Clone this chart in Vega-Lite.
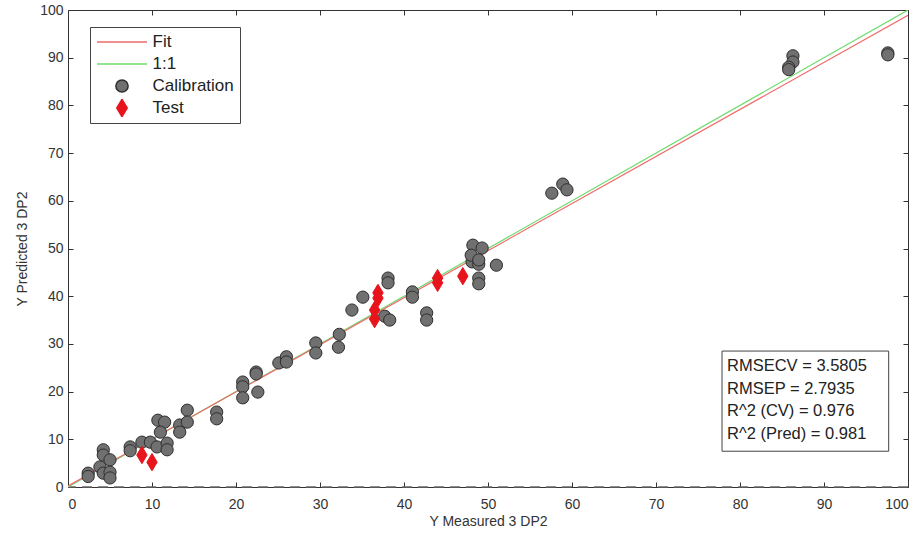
{
  "$schema": "https://vega.github.io/schema/vega-lite/v6.json",
  "autosize": "none",
  "width": 840,
  "height": 477,
  "padding": {"left": 68, "top": 10, "right": 12, "bottom": 50},
  "background": "white",
  "config": {
    "font": "Liberation Sans",
    "view": {"stroke": "#333", "strokeWidth": 1},
    "axis": {"grid": false, "domainColor": "#333", "tickColor": "#333", "labelColor": "#333", "titleColor": "#333", "labelFont": "Liberation Sans", "titleFont": "Liberation Sans", "labelFontSize": 14, "titleFontSize": 14, "titleFontWeight": "normal"},
    "legend": {"title": null, "orient": "none", "legendX": 22, "legendY": 17, "strokeColor": "#444", "fillColor": "white", "padding": 6, "labelFontSize": 17, "labelFont": "Liberation Sans", "labelColor": "#222", "symbolStrokeWidth": 1.5, "labelOffset": 4.5, "rowPadding": 4, "clipHeight": 18}
  },
  "datasets": {
    "pts": [
      {"series": "Calibration", "x": 2.4, "y": 2.9}, {"series": "Calibration", "x": 2.4, "y": 2.2},
      {"series": "Calibration", "x": 3.8, "y": 4.2}, {"series": "Calibration", "x": 4.2, "y": 7.8},
      {"series": "Calibration", "x": 4.2, "y": 6.7}, {"series": "Calibration", "x": 4.2, "y": 2.9},
      {"series": "Calibration", "x": 5.0, "y": 5.7}, {"series": "Calibration", "x": 5.0, "y": 3.1},
      {"series": "Calibration", "x": 5.0, "y": 1.9}, {"series": "Calibration", "x": 7.4, "y": 8.4},
      {"series": "Calibration", "x": 7.4, "y": 7.6}, {"series": "Calibration", "x": 8.8, "y": 9.4},
      {"series": "Calibration", "x": 9.8, "y": 9.4}, {"series": "Calibration", "x": 10.6, "y": 8.4},
      {"series": "Calibration", "x": 11.8, "y": 9.2}, {"series": "Calibration", "x": 11.8, "y": 7.8},
      {"series": "Calibration", "x": 10.7, "y": 14.0}, {"series": "Calibration", "x": 11.5, "y": 13.6},
      {"series": "Calibration", "x": 11.0, "y": 11.5}, {"series": "Calibration", "x": 13.3, "y": 13.0},
      {"series": "Calibration", "x": 13.3, "y": 11.5}, {"series": "Calibration", "x": 14.2, "y": 16.1},
      {"series": "Calibration", "x": 14.2, "y": 13.6}, {"series": "Calibration", "x": 17.7, "y": 15.7},
      {"series": "Calibration", "x": 17.7, "y": 14.3}, {"series": "Calibration", "x": 20.8, "y": 22.0},
      {"series": "Calibration", "x": 20.8, "y": 21.0}, {"series": "Calibration", "x": 20.8, "y": 18.7},
      {"series": "Calibration", "x": 22.4, "y": 24.1}, {"series": "Calibration", "x": 22.4, "y": 23.7},
      {"series": "Calibration", "x": 22.6, "y": 19.9}, {"series": "Calibration", "x": 25.1, "y": 26.0},
      {"series": "Calibration", "x": 26.0, "y": 27.3}, {"series": "Calibration", "x": 26.0, "y": 26.2},
      {"series": "Calibration", "x": 29.5, "y": 30.2}, {"series": "Calibration", "x": 29.5, "y": 28.1},
      {"series": "Calibration", "x": 32.3, "y": 32.0}, {"series": "Calibration", "x": 32.2, "y": 29.3},
      {"series": "Calibration", "x": 33.8, "y": 37.1}, {"series": "Calibration", "x": 35.1, "y": 39.8},
      {"series": "Calibration", "x": 37.7, "y": 35.8}, {"series": "Calibration", "x": 38.3, "y": 35.0},
      {"series": "Calibration", "x": 38.1, "y": 43.8}, {"series": "Calibration", "x": 38.1, "y": 42.8},
      {"series": "Calibration", "x": 41.0, "y": 40.9}, {"series": "Calibration", "x": 41.0, "y": 39.8},
      {"series": "Calibration", "x": 42.7, "y": 36.5}, {"series": "Calibration", "x": 42.7, "y": 35.0},
      {"series": "Calibration", "x": 48.1, "y": 47.2}, {"series": "Calibration", "x": 48.9, "y": 46.7},
      {"series": "Calibration", "x": 51.0, "y": 46.5}, {"series": "Calibration", "x": 48.9, "y": 43.8},
      {"series": "Calibration", "x": 48.9, "y": 42.6}, {"series": "Calibration", "x": 48.2, "y": 50.7},
      {"series": "Calibration", "x": 49.3, "y": 50.1}, {"series": "Calibration", "x": 48.0, "y": 48.6},
      {"series": "Calibration", "x": 48.9, "y": 47.6}, {"series": "Calibration", "x": 57.6, "y": 61.6},
      {"series": "Calibration", "x": 58.9, "y": 63.5}, {"series": "Calibration", "x": 59.4, "y": 62.3},
      {"series": "Calibration", "x": 86.3, "y": 90.4}, {"series": "Calibration", "x": 86.3, "y": 89.1},
      {"series": "Calibration", "x": 85.8, "y": 88.0}, {"series": "Calibration", "x": 85.8, "y": 87.5},
      {"series": "Calibration", "x": 97.6, "y": 91.0}, {"series": "Calibration", "x": 97.6, "y": 90.6},
      {"series": "Test", "x": 8.8, "y": 6.7}, {"series": "Test", "x": 10.0, "y": 5.2},
      {"series": "Test", "x": 36.9, "y": 40.7}, {"series": "Test", "x": 36.9, "y": 39.6},
      {"series": "Test", "x": 36.5, "y": 37.1}, {"series": "Test", "x": 36.5, "y": 35.2},
      {"series": "Test", "x": 44.0, "y": 43.8}, {"series": "Test", "x": 44.0, "y": 42.8},
      {"series": "Test", "x": 47.0, "y": 44.2}
    ],
    "lines": [
      {"series": "1:1", "x": 0, "y": 0}, {"series": "1:1", "x": 100, "y": 100},
      {"series": "Fit", "x": 0, "y": 0.2}, {"series": "Fit", "x": 100, "y": 98.9}
    ],
    "one": [{"k": 1}]
  },
  "resolve": {"axis": {"x": "independent", "y": "independent"}},
  "layer": [
    {
      "data": {"name": "pts"},
      "mark": {"type": "point", "opacity": 0},
      "encoding": {
        "x": {"field": "x", "type": "quantitative", "scale": {"domain": [0, 100], "nice": false},
              "axis": {"orient": "top", "values": [0,10,20,30,40,50,60,70,80,90,100], "labels": false, "title": null, "tickSize": -5, "domain": false}},
        "y": {"field": "y", "type": "quantitative", "scale": {"domain": [0, 100], "nice": false},
              "axis": {"orient": "right", "values": [0,10,20,30,40,50,60,70,80,90,100], "labels": false, "title": null, "tickSize": -5, "domain": false}}
      }
    },
    {
      "data": {"name": "one"},
      "mark": {"type": "rule", "color": "#666", "strokeDash": [10, 6], "strokeWidth": 1.5},
      "encoding": {"y": {"datum": 0, "type": "quantitative", "axis": null}}
    },
    {
      "data": {"name": "lines"},
      "mark": {"type": "line", "strokeWidth": 1.2, "clip": true},
      "encoding": {
        "x": {"field": "x", "type": "quantitative",
              "axis": {"orient": "bottom", "values": [0,10,20,30,40,50,60,70,80,90,100], "title": "Y Measured 3 DP2", "tickSize": -5, "labelPadding": 15, "titlePadding": 3, "domain": false}},
        "y": {"field": "y", "type": "quantitative",
              "axis": {"orient": "left", "values": [0,10,20,30,40,50,60,70,80,90,100], "title": "Y Predicted 3 DP2", "tickSize": -5, "labelPadding": 10, "titlePadding": 10, "domain": false}},
        "stroke": {"field": "series", "type": "nominal",
                   "scale": {"domain": ["Fit", "1:1", "Calibration", "Test"], "range": ["#f06a6a", "#6ddc6d", "#2e2e2e", "#e8141c"]}},
        "detail": {"field": "series"}
      }
    },
    {
      "data": {"name": "pts"},
      "mark": {"type": "point", "filled": true, "strokeWidth": 1, "opacity": 1},
      "encoding": {
        "x": {"field": "x", "type": "quantitative", "axis": null},
        "y": {"field": "y", "type": "quantitative", "axis": null},
        "fill": {"field": "series", "type": "nominal",
                 "scale": {"domain": ["Fit", "1:1", "Calibration", "Test"], "range": ["#f06a6a", "#6ddc6d", "#707070", "#e8141c"]}},
        "stroke": {"field": "series", "type": "nominal",
                   "scale": {"domain": ["Fit", "1:1", "Calibration", "Test"], "range": ["#f06a6a", "#6ddc6d", "#2e2e2e", "#e8141c"]}},
        "shape": {"field": "series", "type": "nominal",
                  "scale": {"domain": ["Fit", "1:1", "Calibration", "Test"], "range": ["stroke", "stroke", "circle", "M0,-1L0.6,0L0,1L-0.6,0Z"]}},
        "size": {"field": "series", "type": "nominal",
                 "scale": {"type": "ordinal", "domain": ["Fit", "1:1", "Calibration", "Test"], "range": [2500, 2500, 150, 300]}}
      }
    },
    {
      "data": {"name": "one"},
      "mark": {"type": "rect", "fill": "white", "stroke": "#444", "strokeWidth": 1},
      "encoding": {
        "x": {"datum": 77.86, "type": "quantitative", "axis": null},
        "x2": {"datum": 97.7},
        "y": {"datum": 7.5, "type": "quantitative", "axis": null},
        "y2": {"datum": 28.5}
      }
    },
    {
      "data": {"name": "one"},
      "mark": {"type": "text", "align": "left", "baseline": "top", "fontSize": 16.5, "lineHeight": 22.5, "font": "Liberation Sans", "color": "#222",
               "text": ["RMSECV = 3.5805", "RMSEP = 2.7935", "R^2 (CV) = 0.976", "R^2 (Pred) = 0.981"]},
      "encoding": {
        "x": {"datum": 78.45, "type": "quantitative", "axis": null},
        "y": {"datum": 27.0, "type": "quantitative", "axis": null}
      }
    }
  ]
}
